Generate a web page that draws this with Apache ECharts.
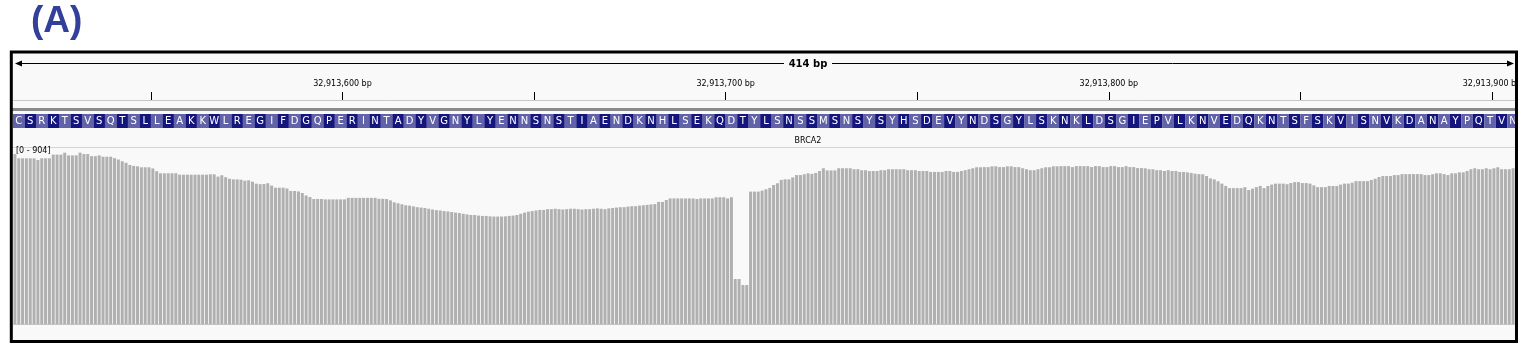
<!DOCTYPE html>
<html>
<head>
<meta charset="utf-8">
<script src="https://cdn.jsdelivr.net/npm/echarts@6/dist/echarts.min.js"></script>
<style>
html, body { margin: 0; padding: 0; background: #fff; }
#main { width: 1525px; height: 352px; }
</style>
</head>
<body>
<div id="main"></div>
<script>
var myChart = echarts.init(document.getElementById('main'));

// region shown (bp)
var startPos = 32913514;
var endPos = 32913906;
var tickPositions = [32913550, 32913600, 32913650, 32913700, 32913750, 32913800, 32913850, 32913900];
var labelPositions = [32913600, 32913700, 32913800, 32913900];

// translated amino acids (one per 3 bp)
var aminoAcids = 'CSRKTSVSQTSLLEAKKWLREGIFDGQPERINTADYVGNYLYENNSNSTIAENDKNHLSEKQDTYLSNSSMSNSYSYHSDEVYNDSGYLSKNKLDSGIEPVLKNVEDQKNTSFSKVISNVKDANAYPQTVN'.split('');

// read depth per base, range [0 - 904]
var coverageMax = 904;
var coverage = [
    873, 851, 851, 851, 851, 851, 842, 851, 851, 851,
    870, 870, 870, 880, 866, 866, 866, 880, 873, 873,
    862, 862, 866, 859, 859, 859, 852, 845, 836, 828,
    817, 812, 810, 805, 805, 805, 799, 785, 774, 774,
    774, 774, 774, 767, 767, 767, 767, 767, 767, 767,
    767, 769, 769, 757, 764, 754, 746, 743, 743, 741,
    736, 738, 731, 721, 718, 719, 723, 711, 700, 700,
    700, 696, 683, 683, 681, 673, 660, 652, 642, 642,
    642, 640, 640, 640, 640, 640, 640, 648, 648, 648,
    648, 648, 648, 648, 648, 643, 643, 642, 635, 625,
    620, 615, 610, 608, 604, 600, 598, 596, 592, 588,
    585, 583, 580, 578, 575, 572, 570, 566, 563, 560,
    560, 557, 555, 555, 553, 552, 552, 552, 553, 555,
    557, 560, 566, 572, 577, 580, 583, 586, 586, 590,
    590, 592, 590, 588, 590, 592, 592, 590, 588, 590,
    590, 592, 594, 592, 590, 594, 596, 598, 600, 600,
    603, 605, 605, 608, 610, 612, 614, 616, 627, 627,
    637, 645, 645, 645, 645, 645, 645, 645, 642, 645,
    645, 645, 645, 651, 651, 651, 645, 651, 231, 231,
    200, 200, 680, 680, 680, 685, 692, 699, 714, 723,
    740, 743, 743, 753, 765, 765, 769, 774, 771, 776,
    786, 800, 789, 789, 789, 800, 800, 800, 800, 795,
    795, 790, 790, 786, 786, 786, 790, 790, 795, 795,
    795, 795, 795, 790, 790, 790, 786, 786, 786, 781,
    781, 781, 781, 786, 786, 781, 781, 786, 790, 795,
    800, 805, 805, 806, 806, 810, 810, 806, 806, 810,
    810, 806, 806, 800, 795, 790, 790, 795, 800, 805,
    805, 810, 810, 811, 811, 811, 806, 811, 811, 811,
    811, 806, 811, 811, 806, 806, 811, 811, 806, 806,
    811, 806, 806, 801, 801, 800, 795, 795, 790, 790,
    786, 790, 786, 786, 781, 781, 779, 776, 772, 770,
    769, 760, 748, 743, 733, 721, 709, 698, 698, 698,
    698, 703, 688, 695, 703, 709, 698, 709, 716, 721,
    721, 721, 718, 724, 729, 729, 724, 724, 721, 712,
    703, 703, 703, 709, 709, 709, 716, 721, 721, 726,
    734, 734, 734, 734, 740, 746, 755, 760, 760, 760,
    765, 765, 770, 770, 770, 770, 770, 770, 765, 765,
    769, 774, 774, 770, 765, 774, 774, 779, 779, 786,
    795, 800, 795, 795, 800, 795, 800, 805, 795, 795,
    795, 800
];

var positions = coverage.map(function (v, i) { return startPos + i; });
var aaData = aminoAcids.map(function (aa, i) {
    return [startPos + i * 3, startPos + i * 3 + 3, i];
});

var option = {
    animation: false,
    backgroundColor: '#ffffff',
    title: {
        text: '(A)',
        left: 26,
        top: -2,
        textStyle: {
            fontFamily: 'Liberation Sans',
            fontSize: 37,
            fontWeight: 'bold',
            color: '#32409a'
        }
    },
    graphic: [
        { type: 'rect', z: -10, shape: { x: 11, y: 52, width: 1506, height: 290 }, style: { fill: '#f9f9f9' } },
        { type: 'rect', z: 1, shape: { x: 12, y: 108, width: 1504, height: 3 }, style: { fill: '#8a8a8a' } },
        { type: 'rect', z: 1, shape: { x: 12, y: 147, width: 1504, height: 1 }, style: { fill: '#d2d2d8' } },
        { type: 'line', z: 1, shape: { x1: 16, y1: 63.5, x2: 784, y2: 63.5 }, style: { stroke: '#000', lineWidth: 1 } },
        { type: 'line', z: 1, shape: { x1: 832, y1: 63.5, x2: 1513, y2: 63.5 }, style: { stroke: '#000', lineWidth: 1 } },
        { type: 'polygon', z: 1, shape: { points: [[15, 63.5], [22, 60.5], [22, 66.5]] }, style: { fill: '#000' } },
        { type: 'polygon', z: 1, shape: { points: [[1514, 63.5], [1507, 60.5], [1507, 66.5]] }, style: { fill: '#000' } },
        { type: 'text', z: 1, x: 808, y: 64, style: { text: '414 bp', fontFamily: 'DejaVu Sans', fontWeight: 'bold', fontSize: 10, fill: '#000', align: 'center', verticalAlign: 'middle' } },
        { type: 'text', z: 1, x: 808, y: 141, style: { text: 'BRCA2', fontFamily: 'DejaVu Sans', fontSize: 8, fill: '#000', align: 'center', verticalAlign: 'middle' } },
        { type: 'text', z: 5, x: 16, y: 151, style: { text: '[0 - ' + coverageMax + ']', fontFamily: 'DejaVu Sans', fontSize: 8, fill: '#000', align: 'left', verticalAlign: 'middle' } },
        { type: 'rect', z: 100, shape: { x: 1518, y: 52, width: 7, height: 292 }, style: { fill: '#ffffff' } },
        { type: 'rect', z: 100, shape: { x: 11.3, y: 52, width: 1505.2, height: 289.5 }, style: { fill: null, stroke: '#000', lineWidth: 3 } }
    ],
    grid: [
        { left: 13, right: 10, top: 99, height: 1 },
        { left: 13, right: 10, top: 114, height: 14 },
        { left: 13, right: 10, top: 148, height: 176 }
    ],
    xAxis: [
        {
            gridIndex: 0,
            type: 'value',
            position: 'top',
            min: startPos,
            max: endPos,
            splitLine: { show: false },
            axisLine: { show: true, lineStyle: { color: '#c8c8c8', width: 1 } },
            axisTick: {
                show: true,
                inside: false,
                length: 8,
                customValues: tickPositions,
                lineStyle: { color: '#000', width: 1 }
            },
            axisLabel: {
                show: true,
                margin: 11,
                customValues: labelPositions,
                fontFamily: 'DejaVu Sans',
                fontSize: 8,
                color: '#000',
                formatter: function (v) {
                    return String(v).replace(/\B(?=(\d{3})+(?!\d))/g, ',') + ' bp';
                }
            }
        },
        {
            gridIndex: 1,
            type: 'value',
            min: startPos,
            max: endPos,
            show: false
        },
        {
            gridIndex: 2,
            type: 'category',
            data: positions,
            boundaryGap: true,
            axisLine: { show: true, lineStyle: { color: '#c4c4c4', width: 1 } },
            axisTick: { show: false },
            axisLabel: { show: false },
            splitLine: { show: false }
        }
    ],
    yAxis: [
        { gridIndex: 0, type: 'value', show: false },
        { gridIndex: 1, type: 'value', min: 0, max: 1, show: false },
        { gridIndex: 2, type: 'value', min: 0, max: coverageMax, show: false, splitLine: { show: false } }
    ],
    series: [
        {
            name: 'translation',
            type: 'custom',
            xAxisIndex: 1,
            yAxisIndex: 1,
            clip: true,
            data: aaData,
            encode: { x: [0, 1] },
            renderItem: function (params, api) {
                var p0 = api.coord([api.value(0), 1]);
                var p1 = api.coord([api.value(1), 0]);
                var left = params.coordSys.x;
                var right = params.coordSys.x + params.coordSys.width;
                var x0 = Math.max(p0[0], left);
                var x1 = Math.min(p1[0], right);
                var idx = api.value(2);
                var dark = idx % 2 === 1;
                return {
                    type: 'group',
                    children: [
                        {
                            type: 'rect',
                            shape: { x: x0, y: p0[1], width: x1 - x0, height: p1[1] - p0[1] },
                            style: { fill: dark ? '#15157e' : '#6262a8' }
                        },
                        {
                            type: 'text',
                            x: (p0[0] + p1[0]) / 2,
                            y: (p0[1] + p1[1]) / 2 + 0.5,
                            style: {
                                text: aminoAcids[idx],
                                fontFamily: 'DejaVu Sans',
                                fontSize: 10,
                                fill: '#ffffff',
                                align: 'center',
                                verticalAlign: 'middle'
                            }
                        }
                    ]
                };
            }
        },
        {
            name: 'coverage',
            type: 'bar',
            xAxisIndex: 2,
            yAxisIndex: 2,
            barWidth: 3,
            itemStyle: { color: '#b0b0b0' },
            data: coverage
        }
    ]
};

myChart.setOption(option);

window.onresize = function () {
    myChart.resize();
};
</script>
</body>
</html>
